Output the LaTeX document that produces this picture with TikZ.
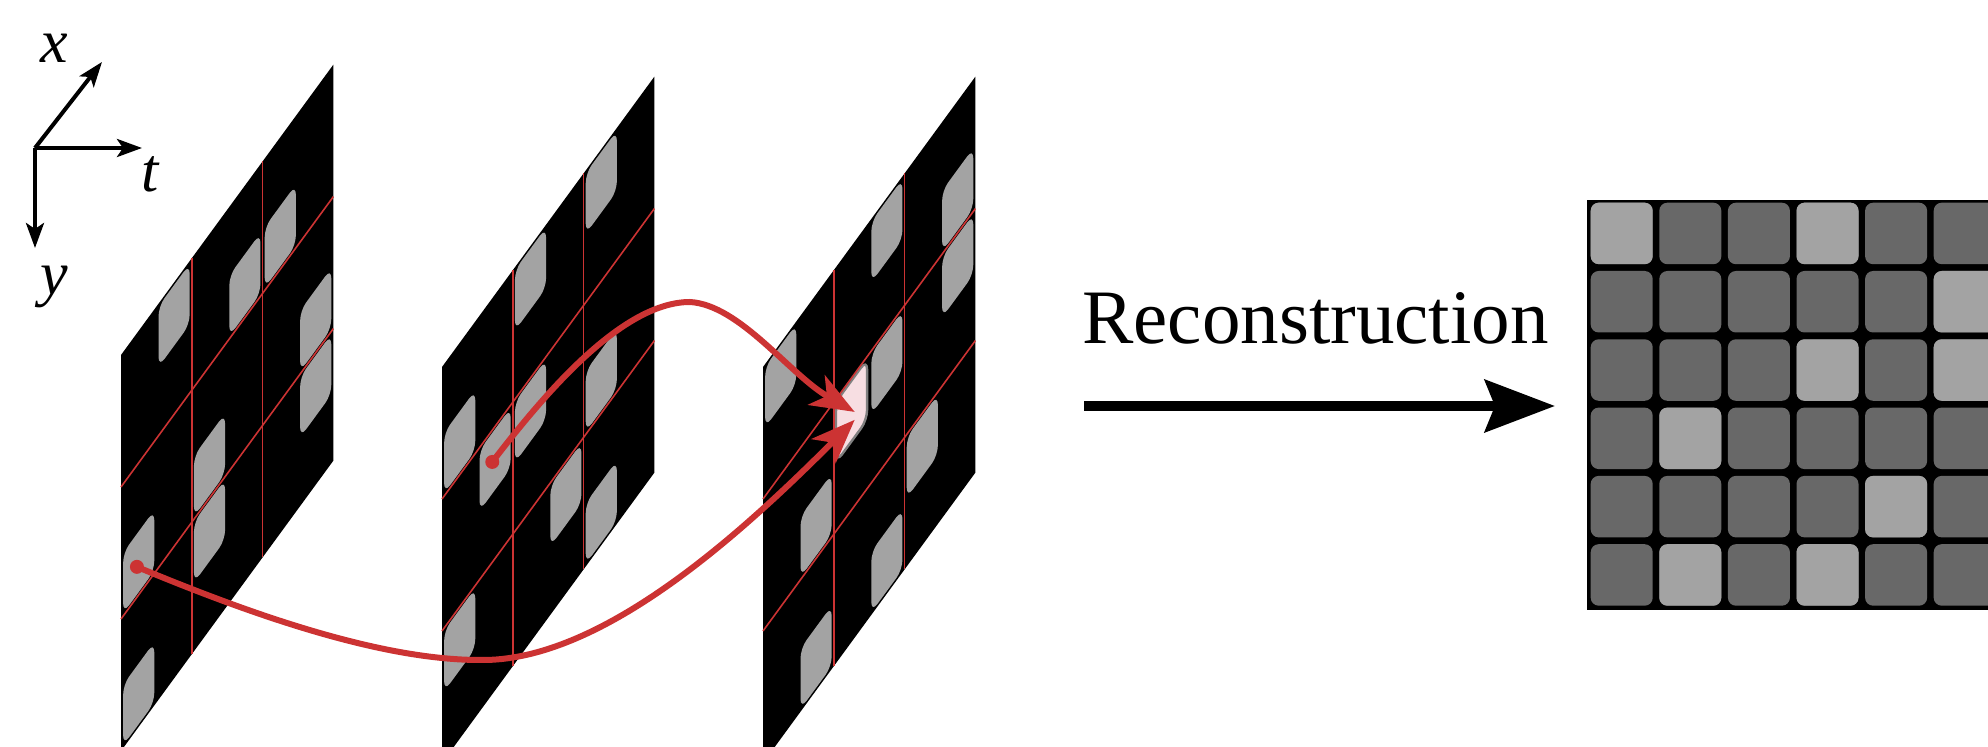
\documentclass[tikz,border=0pt]{standalone}
\usepackage{fontspec}
\setmainfont{Liberation Serif}
\usetikzlibrary{arrows.meta}
\definecolor{pixgray}{RGB}{163,163,163}
\definecolor{tiledark}{RGB}{104,104,104}
\definecolor{mred}{RGB}{204,51,51}
\definecolor{hitpink}{RGB}{247,222,226}

\begin{document}
\begin{tikzpicture}[x=0.5pt,y=-0.5pt,every node/.style={inner sep=0pt},
  pix/.style={fill=pixgray,rounded corners=5pt},
  seam/.style={mred,line width=0.8pt},
  flow/.style={mred,line width=3pt,-{Stealth[length=22pt,width=17pt,inset=6pt]}},
  axis/.style={line width=2pt,-{Stealth[length=12.5pt,width=9pt,inset=3pt]}},
  tile/.style={rounded corners=4pt}]
  \useasboundingbox (0,0) rectangle (1988,747);
  \clip (0,0) rectangle (1988,747);
  % axes
  \coordinate (o) at (35,148);
  \coordinate (xa) at (102,62);
  \coordinate (ta) at (142,148);
  \coordinate (ya) at (35,248);
  \draw[axis] (o) -- (xa);
  \draw[axis] (o) -- (ta);
  \draw[axis] (o) -- (ya);
  \node[font=\fontsize{31}{31}\selectfont\itshape] (xl) at (54,48) {x};
  \node[font=\fontsize{31}{31}\selectfont\itshape] (tl) at (150,174) {t};
  \node[font=\fontsize{31}{31}\selectfont\itshape] (yl) at (54,287) {y};
  % frame 1
  \begin{scope}[shift={(121,355)},x={(35.4,-48.4)},y={(0,66)}]
    \fill (0,0) -- (6,0) -- (6,6) -- (0,6) -- cycle;
    \foreach \i/\j in {1/0,3/1,4/1,0/3,2/3,5/3,2/4,5/4,0/5}
      \fill[pix] (\i+0.06,\j+0.04) -- ++(0.88,0) -- ++(0,0.92) -- ++(-0.88,0) -- cycle;
    \foreach \k in {2,4} {
      \draw[seam] (\k,0) -- (\k,6);
      \draw[seam] (0,\k) -- (6,\k);
    }
    \coordinate (dot1) at (0.45,3.54);
  \end{scope}
  % frame 2
  \begin{scope}[shift={(442,367)},x={(35.4,-48.4)},y={(0,66)}]
    \fill (0,0) -- (6,0) -- (6,6) -- (0,6) -- cycle;
    \foreach \i/\j in {2/0,4/0,0/1,1/2,2/2,4/3,0/4,3/4,4/5}
      \fill[pix] (\i+0.06,\j+0.04) -- ++(0.88,0) -- ++(0,0.92) -- ++(-0.88,0) -- cycle;
    \foreach \k in {2,4} {
      \draw[seam] (\k,0) -- (\k,6);
      \draw[seam] (0,\k) -- (6,\k);
    }
    \coordinate (dot2) at (1.42,2.48);
  \end{scope}
  % frame 3
  \begin{scope}[shift={(763,367)},x={(35.4,-48.4)},y={(0,66)}]
    \fill (0,0) -- (6,0) -- (6,6) -- (0,6) -- cycle;
    \foreach \i/\j in {0/0,3/0,5/1,3/2,5/2,1/3,4/4,1/5,3/5}
      \fill[pix] (\i+0.06,\j+0.04) -- ++(0.88,0) -- ++(0,0.92) -- ++(-0.88,0) -- cycle;
    \filldraw[fill=hitpink,draw=gray,line width=1.2pt,rounded corners=5pt]
      (2.06,2.04) -- ++(0.88,0) -- ++(0,0.92) -- ++(-0.88,0) -- cycle;
    \foreach \k in {2,4} {
      \draw[seam] (\k,0) -- (\k,6);
      \draw[seam] (0,\k) -- (6,\k);
    }
    \coordinate (hit1) at (2.59,2.70);
    \coordinate (hit2) at (2.59,2.58);
  \end{scope}
  % sampling paths
  \coordinate (dip) at (480,660);
  \coordinate (crest) at (690,302);
  \draw[flow] (dot1) .. controls (250,614) and (380,660) .. (dip)
    .. controls (600,662) and (740,535) .. (hit1);
  \draw[flow] (dot2) .. controls (540,400) and (620,302) .. (crest)
    .. controls (740,305) and (790,375) .. (hit2);
  \fill[mred] (dot1) circle (3.5pt);
  \fill[mred] (dot2) circle (3.5pt);
  % reconstruction
  \coordinate (ra) at (1084,406);
  \coordinate (rb) at (1555,406);
  \draw[line width=5pt,-{Stealth[length=35pt,width=26pt,inset=5pt]}] (ra) -- (rb);
  \node[anchor=base west,font=\fontsize{38.5}{40}\selectfont] (rlabel) at (1082,344) {Reconstruction};
  \fill (1587,200) rectangle (2000,610);
  \foreach \c in {0,...,5}
    \foreach \r in {0,...,5}
      \fill[tiledark,tile] (1590.7+68.6*\c,202.7+68.3*\r) rectangle ++(62,61.5);
  \foreach \c/\r in {0/0,3/0,5/1,3/2,5/2,1/3,4/4,1/5,3/5}
    \fill[pixgray,tile] (1590.7+68.6*\c,202.7+68.3*\r) rectangle ++(62,61.5);
\end{tikzpicture}
\end{document}
